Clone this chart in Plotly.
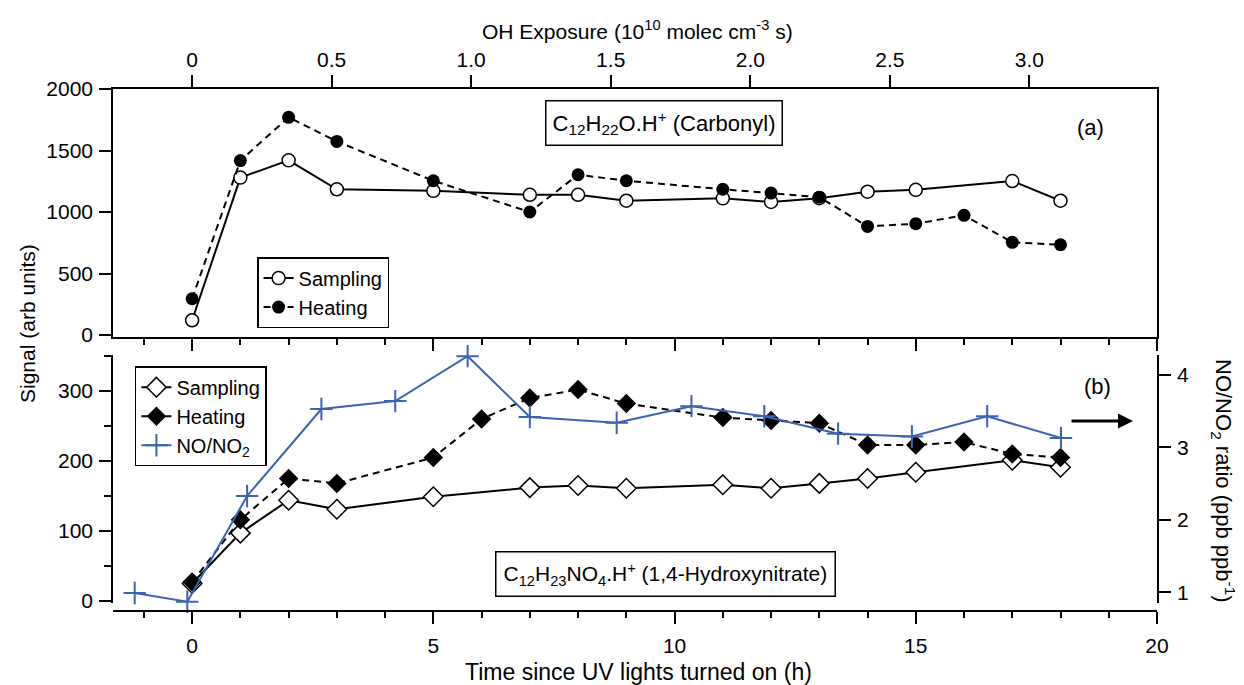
import plotly.graph_objects as go

# ---------------- data ----------------
# Panel (a): C12H22O.H+ (Carbonyl)
a_samp_t = [0, 1, 2, 3, 5, 7, 8, 9, 11, 12, 13, 14, 15, 17, 18]
a_samp_v = [120, 1280, 1420, 1185, 1172, 1140, 1140, 1092, 1111, 1082, 1112, 1165, 1180, 1252, 1092]
a_heat_t = [0, 1, 2, 3, 5, 7, 8, 9, 11, 12, 13, 14, 15, 16, 17, 18]
a_heat_v = [295, 1418, 1770, 1574, 1254, 1000, 1303, 1254, 1185, 1154, 1121, 883, 905, 973, 754, 734]

# Panel (b): C12H23NO4.H+ (1,4-Hydroxynitrate)
b_samp_t = [0, 1, 2, 3, 5, 7, 8, 9, 11, 12, 13, 14, 15, 17, 18]
b_samp_v = [25, 97, 144, 131, 149, 162, 165, 161, 166, 161, 168, 175, 184, 201, 191]
b_heat_t = [0, 1, 2, 3, 5, 6, 7, 8, 9, 11, 12, 13, 14, 15, 16, 17, 18]
b_heat_v = [27, 116, 175, 168, 205, 260, 290, 302, 282, 262, 258, 254, 223, 223, 227, 210, 205]

# NO/NO2 ratio (right axis)
no_t = [-1.19, -0.10, 1.14, 2.68, 4.21, 5.71, 7.0, 8.80, 10.35, 11.86, 13.39, 14.92, 16.48, 18.01]
no_v = [0.99, 0.87, 2.33, 3.53, 3.64, 4.26, 3.42, 3.34, 3.57, 3.43, 3.19, 3.15, 3.43, 3.13]

# top axis tick labels (OH exposure)
oh_ticks = [0, 0.5, 1.0, 1.5, 2.0, 2.5, 3.0]
oh_labels = ["0", "0.5", "1.0", "1.5", "2.0", "2.5", "3.0"]

BLUE = "#3d61b3"
FONT = "Liberation Sans, Arial, Helvetica, sans-serif"
FS = 21

fig = go.Figure()

# Panel a
fig.add_trace(go.Scatter(x=a_samp_t, y=a_samp_v, xaxis="x", yaxis="y", mode="lines+markers",
                         name="Sampling", legend="legend",
                         line=dict(color="black", width=2),
                         marker=dict(symbol="circle", size=13, color="white",
                                     line=dict(color="black", width=1.5)),
                         cliponaxis=False))
fig.add_trace(go.Scatter(x=a_heat_t, y=a_heat_v, xaxis="x", yaxis="y", mode="lines+markers",
                         name="Heating", legend="legend",
                         line=dict(color="black", width=2, dash="7px,5px"),
                         marker=dict(symbol="circle", size=13, color="black"),
                         cliponaxis=False))
# invisible trace to carry the top axis
fig.add_trace(go.Scatter(x=[oh_ticks[0]], y=[None], xaxis="x3", yaxis="y", mode="markers",
                         showlegend=False, hoverinfo="skip", marker=dict(opacity=0)))

# Panel b
fig.add_trace(go.Scatter(x=b_samp_t, y=b_samp_v, xaxis="x2", yaxis="y2", mode="lines+markers",
                         name="Sampling", legend="legend2",
                         line=dict(color="black", width=2),
                         marker=dict(symbol="diamond", size=15, color="white",
                                     line=dict(color="black", width=1.5)),
                         cliponaxis=False))
fig.add_trace(go.Scatter(x=b_heat_t, y=b_heat_v, xaxis="x2", yaxis="y2", mode="lines+markers",
                         name="Heating", legend="legend2",
                         line=dict(color="black", width=2, dash="7px,5px"),
                         marker=dict(symbol="diamond", size=15, color="black"),
                         cliponaxis=False))
fig.add_trace(go.Scatter(x=no_t, y=no_v, xaxis="x2", yaxis="y4", mode="lines+markers",
                         name="NO/NO<sub>2</sub>", legend="legend2",
                         line=dict(color=BLUE, width=2),
                         marker=dict(symbol="cross-thin", size=16, color=BLUE,
                                     line=dict(color=BLUE, width=2)),
                         cliponaxis=False))

axis_common = dict(showline=True, linecolor="black", linewidth=1.5, showgrid=False,
                   zeroline=False, ticks="outside", tickcolor="black", tickwidth=1.5,
                   tickfont=dict(family=FONT, size=FS, color="black"))
minor_x = dict(dtick=1, tick0=0, ticklen=6, ticks="outside", tickcolor="black", tickwidth=1.5)

fig.update_layout(
    width=1244, height=685,
    margin=dict(l=113, r=87, t=89, b=74),
    paper_bgcolor="white", plot_bgcolor="white",
    font=dict(family=FONT, size=FS, color="black"),
    xaxis=dict(domain=[0, 1], range=[-1.64, 20], anchor="y", tickvals=[0, 5, 10, 15, 20],
               ticklen=12, showticklabels=False, minor=minor_x, **axis_common),
    yaxis=dict(domain=[0.5249, 1], range=[-16, 2000], anchor="x",
               tickvals=[0, 500, 1000, 1500, 2000], ticklen=12, mirror=True,
               ticklabelstandoff=2, **axis_common),
    xaxis3=dict(overlaying="x", side="top", anchor="y", range=[-0.283, 3.457],
                tickvals=oh_ticks, ticktext=oh_labels, ticklen=12, ticklabelstandoff=0,
                **axis_common),
    xaxis2=dict(domain=[0, 1], range=[-1.64, 20], anchor="free", position=0,
                tickvals=[0, 5, 10, 15, 20], ticktext=["0", "5", "10", "15", "20"], ticklen=12,
                ticklabelstandoff=4, minor=minor_x, **axis_common),
    yaxis2=dict(domain=[0.0153, 0.4904], range=[-2.86, 351.4], anchor="x2",
                tickvals=[0, 100, 200, 300], ticklen=12, ticklabelstandoff=2,
                minor=dict(dtick=50, tick0=0, ticklen=7, ticks="outside", tickcolor="black", tickwidth=1.5),
                **axis_common),
    yaxis4=dict(overlaying="y2", side="right", anchor="x2", range=[0.852, 4.276],
                tickvals=[1, 2, 3, 4], ticklen=12, ticklabelstandoff=2, **axis_common),
    legend=dict(x=0.138, y=0.678, xanchor="left", yanchor="top",
                bordercolor="black", borderwidth=1.5, bgcolor="white",
                font=dict(family=FONT, size=20), tracegroupgap=0, itemwidth=30),
    legend2=dict(x=0.021, y=0.469, xanchor="left", yanchor="top",
                 bordercolor="black", borderwidth=1.5, bgcolor="white",
                 font=dict(family=FONT, size=20), tracegroupgap=0, itemwidth=30),
    showlegend=True,
)


def ann(x, y, text, size, **kw):
    fig.add_annotation(xref="paper", yref="paper", x=x, y=y, text=text, showarrow=False,
                       xanchor="center", yanchor="middle",
                       font=dict(family=FONT, size=size, color="black"), **kw)


# paper coordinates from pixel positions: plot area x 113..1157, y 89..611
px = lambda v: (v - 113) / 1044
py = lambda v: (611 - v) / 522

ann(px(664), py(123), "C<sub>12</sub>H<sub>22</sub>O.H<sup>+</sup> (Carbonyl)", 22,
    bordercolor="black", borderwidth=1.5, borderpad=6, bgcolor="white")
ann(px(665), py(574), "C<sub>12</sub>H<sub>23</sub>NO<sub>4</sub>.H<sup>+</sup> (1,4-Hydroxynitrate)", 21,
    bordercolor="black", borderwidth=1.5, borderpad=7, bgcolor="white")
ann(px(1090), py(128), "(a)", 22)
ann(px(1097), py(387), "(b)", 22)
fig.add_annotation(xref="paper", yref="paper", x=px(1133), y=py(421), ax=-63, ay=0,
                   showarrow=True, arrowhead=2, arrowsize=1, arrowwidth=3, arrowcolor="black", text="")
# axis titles
ann(px(27), py(324), "Signal (arb units)", 21, textangle=-90)
ann(px(1224), py(481), "NO/NO<sub>2</sub> ratio (ppb ppb<sup>-1</sup>)", 22, textangle=90)
ann(px(637), py(30), "OH Exposure (10<sup>10</sup> molec cm<sup>-3</sup> s)", 21)
ann(px(638), py(672), "Time since UV lights turned on (h)", 23)

fig.write_html("out.html")
